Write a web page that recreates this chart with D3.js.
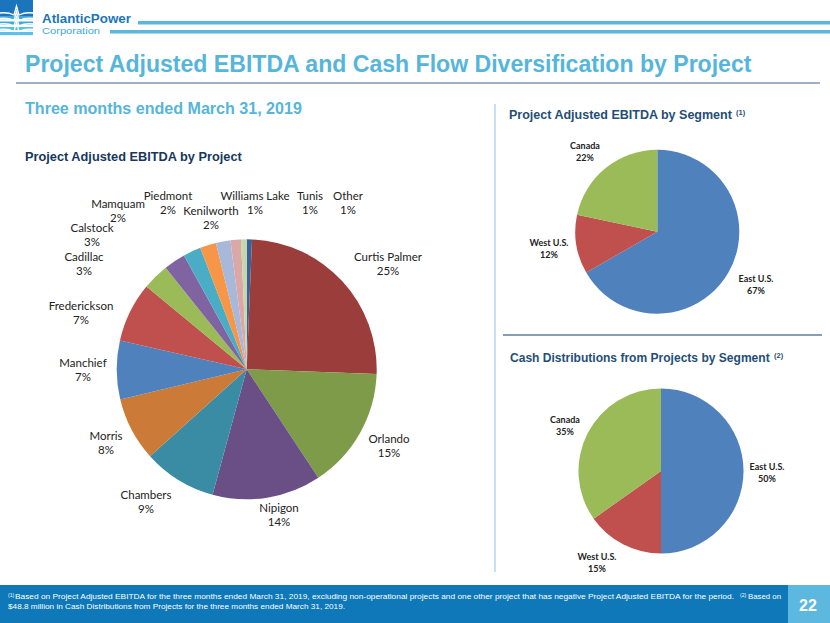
<!DOCTYPE html>
<html><head><meta charset="utf-8">
<script src="https://cdn.jsdelivr.net/npm/d3@7"></script>
<style>
html,body{margin:0;padding:0;background:#fff;}
svg{display:block;}
</style></head>
<body>
<svg id="c" width="830" height="623"></svg>
<script>
// ---------- DATA ----------
const projects = ["Other","Curtis Palmer","Orlando","Nipigon","Chambers","Morris","Manchief","Frederickson","Cadillac","Calstock","Mamquam","Piedmont","Kenilworth","Williams Lake","Tunis"];
const projectShares = [0.65,24.9,15.1,13.5,9.1,7.9,7.3,7.4,3.3,2.7,2.2,2.0,1.8,1.3,0.7];
const projectColors = ["#38629A","#9B3D3B","#7E9B49","#6A4F87","#3A8CA4","#CC7A37","#4F81BD","#C0504D","#9BBB59","#8064A2","#4BACC6","#F79646","#A8B8DB","#DBA8A8","#C6D8AA"];

const segments = ["East U.S.","West U.S.","Canada"];
const ebitdaBySegment = [66.7,11.6,21.7];
const cashBySegment = [50.0,15.2,34.8];
const segmentColors = ["#4F81BD","#C0504D","#9BBB59"];

// label anchor layout (text placement only)
const projectLabelPos = {
 "Curtis Palmer":[388,257],"Orlando":[389,439],"Nipigon":[279,508],"Chambers":[146,495],
 "Morris":[106,436],"Manchief":[83,363],"Frederickson":[81,306],"Cadillac":[84,257],
 "Calstock":[92,228],"Mamquam":[118,204],"Piedmont":[168,196],"Kenilworth":[211,211],
 "Williams Lake":[255,196],"Tunis":[310,196],"Other":[348,196]
};
const ebitdaLabelPos = {"East U.S.":[756,279],"West U.S.":[549,243],"Canada":[585,146]};
const cashLabelPos = {"East U.S.":[767,467],"West U.S.":[597,557],"Canada":[565,420]};

const svg = d3.select("#c");
const SANS = "Liberation Sans, Arial, sans-serif";

// fit a text horizontally to a given width with a scale transform
function fitText(x,y,txt,width,attrs){
  const t = svg.append("text").attr("font-family",SANS);
  Object.entries(attrs).forEach(([k,v])=>t.attr(k,v));
  t.text(txt);
  const nat = t.node().getComputedTextLength();
  t.attr("transform",`translate(${x},${y}) scale(${width/nat},1)`);
  return t;
}

// ---------- HEADER / LOGO ----------
const logo = svg.append("g");
logo.append("rect").attr("x",0).attr("y",0).attr("width",33).attr("height",16).attr("fill","#1B75BC");
[18,23.5,29,34].forEach((y,i)=>{
  logo.append("rect").attr("x",0).attr("y",y-2).attr("width",33).attr("height",3.2).attr("fill",i<2?"#3FA9DB":"#5BC0E8");
});
[13,18.5,24,29.5].forEach(y=>{
  logo.append("path").attr("d",`M0,${y} Q8,${y-1} 14,${y+2} L16.5,${y-7} L19,${y+2} Q25,${y-1} 33,${y}`)
    .attr("fill","none").attr("stroke","#fff").attr("stroke-width",1.3);
});
fitText(42,23,"AtlanticPower",89,{"font-weight":"bold","font-size":13,"fill":"#1B75BC"});
fitText(42,34,"Corporation",58,{"font-size":9.5,"fill":"#3FA9DB"});
svg.append("rect").attr("x",138).attr("y",21).attr("width",692).attr("height",3.5).attr("fill","#5BB8DA");
svg.append("rect").attr("x",110).attr("y",30).attr("width",720).attr("height",3.5).attr("fill","#5BB8DA");

fitText(25,72,"Project Adjusted EBITDA and Cash Flow Diversification by Project",727,
  {"font-weight":"bold","font-size":24,"fill":"#55B5DD"});
svg.append("line").attr("x1",16).attr("x2",820).attr("y1",83).attr("y2",83).attr("stroke","#7E97AC").attr("stroke-width",1.5);

fitText(25,114,"Three months ended March 31, 2019",277,{"font-weight":"bold","font-size":16.5,"fill":"#55B5DD"});
fitText(25,161,"Project Adjusted EBITDA by Project",217,{"font-weight":"bold","font-size":13,"fill":"#17375E"});

// dividers
svg.append("line").attr("x1",495).attr("x2",495).attr("y1",104).attr("y2",572).attr("stroke","#C9DFF3").attr("stroke-width",2);
svg.append("line").attr("x1",503).attr("x2",822).attr("y1",335).attr("y2",335).attr("stroke","#5F7E95").attr("stroke-width",1.5);

function subTitle(x,y,txt,sup,len){
  fitText(x,y,txt,len,{"font-weight":"bold","font-size":12.5,"fill":"#1F4E79"});
  svg.append("text").attr("x",x+len+4).attr("y",y-4).attr("font-family",SANS)
    .attr("font-weight","bold").attr("font-size",7.5).attr("fill","#1F4E79").text(sup);
}
subTitle(509,119,"Project Adjusted EBITDA by Segment","(1)",223);
subTitle(510,362,"Cash Distributions from Projects by Segment","(2)",260);

// ---------- MAIN PIE ----------
const mainR = 130, mainC = [246.7,369.3];
const pieGen = d3.pie().sort(null).value(d=>d.v);
const mainData = projects.map((n,i)=>({n, v:projectShares[i], c:projectColors[i]}));
const mainTotal = d3.sum(projectShares);
const arcMain = d3.arc().innerRadius(0).outerRadius(mainR);
const gMain = svg.append("g").attr("transform",`translate(${mainC[0]},${mainC[1]})`);
gMain.selectAll("path").data(pieGen(mainData)).join("path")
  .attr("d",arcMain).attr("fill",d=>d.data.c);

const lblFont = "Lato, 'Open Sans', sans-serif";
mainData.forEach(d=>{
  const p = projectLabelPos[d.n];
  const t = svg.append("text").attr("text-anchor","middle")
    .attr("font-family",lblFont).attr("font-size",11.5).attr("fill","#222");
  t.append("tspan").attr("x",p[0]).attr("y",p[1]+4).text(d.n);
  t.append("tspan").attr("x",p[0]).attr("y",p[1]+18).text(Math.round(d.v/mainTotal*100)+"%");
});

// ---------- SEGMENT PIES ----------
function segPie(center, r, vals, lpos){
  const data = segments.map((n,i)=>({n, v:vals[i], c:segmentColors[i]}));
  const tot = d3.sum(vals);
  const arc = d3.arc().innerRadius(0).outerRadius(r);
  const g = svg.append("g").attr("transform",`translate(${center[0]},${center[1]})`);
  g.selectAll("path").data(pieGen(data)).join("path").attr("d",arc).attr("fill",d=>d.data.c);
  data.forEach(d=>{
    const p = lpos[d.n];
    const t = svg.append("text").attr("text-anchor","middle")
      .attr("font-family",lblFont).attr("font-weight","bold").attr("font-size",9).attr("fill","#222");
    t.append("tspan").attr("x",p[0]).attr("y",p[1]+3).text(d.n);
    t.append("tspan").attr("x",p[0]).attr("y",p[1]+15).text(Math.round(d.v/tot*100)+"%");
  });
}
segPie([657.3,231.7],82,ebitdaBySegment,ebitdaLabelPos);
segPie([661,471],82.5,cashBySegment,cashLabelPos);

// ---------- FOOTER ----------
svg.append("rect").attr("x",0).attr("y",585).attr("width",830).attr("height",38).attr("fill","#0E78B9");
svg.append("rect").attr("x",788).attr("y",585).attr("width",42).attr("height",38).attr("fill","#5CB8DF");
svg.append("text").attr("x",808).attr("y",611).attr("text-anchor","middle")
  .attr("font-family",SANS).attr("font-weight","bold")
  .attr("font-size",16).attr("fill","#fff").text("22");
function foot(x,y,txt,len,size){
  if(len) return fitText(x,y,txt,len,{"font-size":size,"fill":"#fff"});
  svg.append("text").attr("x",x).attr("y",y).attr("font-family",SANS)
    .attr("font-size",size).attr("fill","#fff").text(txt);
}
foot(8,597,"(1)",null,5);
foot(15,599,"Based on Project Adjusted EBITDA for the three months ended March 31, 2019, excluding non-operational projects and one other project that has negative Project Adjusted EBITDA for the period.",719,7.2);
foot(740,597,"(2)",null,5);
foot(748,599,"Based on",33,7.2);
foot(8,609,"$48.8 million in Cash Distributions from Projects for the three months ended March 31, 2019.",337,7.2);
</script>
</body></html>
